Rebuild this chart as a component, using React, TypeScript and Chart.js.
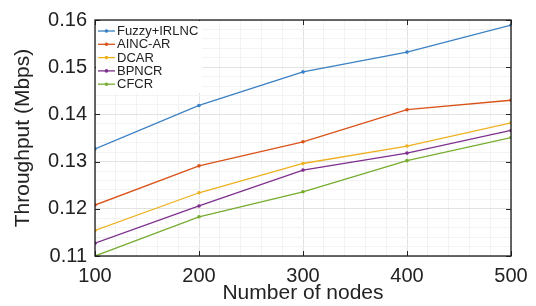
import React, { useEffect, useRef } from "react";
import { Chart, registerables } from "chart.js";

Chart.register(...registerables);

const nodes = [100, 200, 300, 400, 500];
const seriesNames = ["Fuzzy+IRLNC", "AINC-AR", "DCAR", "BPNCR", "CFCR"];
const fuzzyIrlnc = [0.1327, 0.1419, 0.149, 0.1532, 0.1589];
const aincAr = [0.1208, 0.1291, 0.1342, 0.141, 0.143];
const dcar = [0.1154, 0.1234, 0.1296, 0.1333, 0.1382];
const bpncr = [0.1127, 0.1206, 0.1282, 0.1318, 0.1366];
const cfcr = [0.11, 0.1183, 0.1236, 0.1302, 0.1351];
const seriesColors = ["#3a80c4", "#d95319", "#edb120", "#7e2f8e", "#77ac30"];

const FONT = "'Liberation Sans', Arial, sans-serif";
const TEXT = "#222222";
const MAJOR_GRID = "#e2e2e2";
const MINOR_GRID = "#f3f3f3";

const overlayPlugin = {
  id: "overlay",
  afterDraw(chart: any) {
    const { ctx, chartArea } = chart;
    const { left, right, top, bottom } = chartArea;
    const xs = chart.scales.x;
    const ys = chart.scales.y;
    ctx.save();
    ctx.strokeStyle = "#262626";
    ctx.lineWidth = 1;
    const tl = 5;
    ctx.beginPath();
    for (const v of nodes) {
      const px = Math.round(xs.getPixelForValue(v)) + 0.5;
      ctx.moveTo(px, bottom);
      ctx.lineTo(px, bottom - tl);
      ctx.moveTo(px, top);
      ctx.lineTo(px, top + tl);
    }
    for (let k = 11; k <= 16; k++) {
      const py = Math.round(ys.getPixelForValue(k / 100)) + 0.5;
      ctx.moveTo(left, py);
      ctx.lineTo(left + tl, py);
      ctx.moveTo(right, py);
      ctx.lineTo(right - tl, py);
    }
    ctx.stroke();
    ctx.lineWidth = 1.3;
    ctx.strokeStyle = "#1a1a1a";
    ctx.strokeRect(left, top, right - left, bottom - top);

    const lx = left + 2;
    const ly0 = top + 11;
    const gap = 13.3;
    ctx.fillStyle = "#ffffff";
    ctx.fillRect(left + 1, top + 1, 106, 72);
    ctx.font = `13px ${FONT}`;
    ctx.textBaseline = "middle";
    ctx.textAlign = "left";
    chart.data.datasets.forEach((ds: any, i: number) => {
      const y = ly0 + i * gap;
      ctx.strokeStyle = ds.borderColor;
      ctx.lineWidth = 1.3;
      ctx.beginPath();
      ctx.moveTo(lx + 1, y);
      ctx.lineTo(lx + 18, y);
      ctx.stroke();
      ctx.fillStyle = ds.borderColor;
      ctx.beginPath();
      ctx.arc(lx + 9.5, y, 1.8, 0, Math.PI * 2);
      ctx.fill();
      ctx.fillStyle = TEXT;
      ctx.fillText(ds.label, lx + 20, y + 0.5);
    });
    ctx.restore();
  },
};

export default function App() {
  const ref = useRef<HTMLCanvasElement>(null);
  useEffect(() => {
    document.body.style.margin = "0";
    const values = [fuzzyIrlnc, aincAr, dcar, bpncr, cfcr];
    const chart = new Chart(ref.current!, {
      type: "line",
      data: {
        datasets: values.map((vals, i) => ({
          label: seriesNames[i],
          data: nodes.map((n, j) => ({ x: n, y: vals[j] })),
          borderColor: seriesColors[i],
          backgroundColor: seriesColors[i],
          borderWidth: 1.3,
          pointRadius: 1.8,
          pointBorderWidth: 0,
          pointHoverRadius: 1.8,
          tension: 0,
          fill: false,
        })),
      },
      options: {
        animation: false,
        responsive: false,
        maintainAspectRatio: false,
        events: [],
        layout: { padding: { left: 0, right: 25, top: 18, bottom: 0 } },
        plugins: {
          legend: { display: false },
          tooltip: { enabled: false },
        },
        scales: {
          x: {
            type: "linear",
            min: 100,
            max: 500,
            afterFit: (s: any) => {
              s.height = 50;
            },
            ticks: {
              stepSize: 20,
              autoSkip: false,
              maxRotation: 0,
              padding: 8,
              color: TEXT,
              font: { family: FONT, size: 20 },
              callback: (v: any) => (Math.round(v) % 100 === 0 ? String(Math.round(v)) : ""),
            },
            grid: {
              drawTicks: false,
              color: (c: any) =>
                c.tick && Math.round(c.tick.value) % 100 === 0 ? MAJOR_GRID : MINOR_GRID,
              lineWidth: 1,
            },
            border: { display: false },
            title: {
              display: true,
              text: "Number of nodes",
              color: TEXT,
              font: { family: FONT, size: 21 },
              padding: { top: 0, bottom: 0 },
            },
          },
          y: {
            min: 0.11,
            max: 0.16,
            afterFit: (s: any) => {
              s.width = 95;
            },
            ticks: {
              stepSize: 0.002,
              autoSkip: false,
              padding: 8,
              color: TEXT,
              font: { family: FONT, size: 20 },
              callback: (v: any) => {
                const n = Number(v) * 100;
                return Math.abs(n - Math.round(n)) < 1e-6 ? (Math.round(n) / 100).toFixed(2) : "";
              },
            },
            grid: {
              drawTicks: false,
              color: (c: any) => {
                if (!c.tick) return MINOR_GRID;
                const n = c.tick.value * 100;
                return Math.abs(n - Math.round(n)) < 1e-6 ? MAJOR_GRID : MINOR_GRID;
              },
              lineWidth: 1,
            },
            border: { display: false },
            title: {
              display: true,
              text: "Throughput (Mbps)",
              color: TEXT,
              font: { family: FONT, size: 21 },
              padding: { top: 11, bottom: 0 },
            },
          },
        },
      },
      plugins: [overlayPlugin],
    });
    return () => chart.destroy();
  }, []);
  return (
    <div style={{ width: 536, height: 306 }}>
      <canvas ref={ref} width={536} height={306} style={{ display: "block" }} />
    </div>
  );
}
